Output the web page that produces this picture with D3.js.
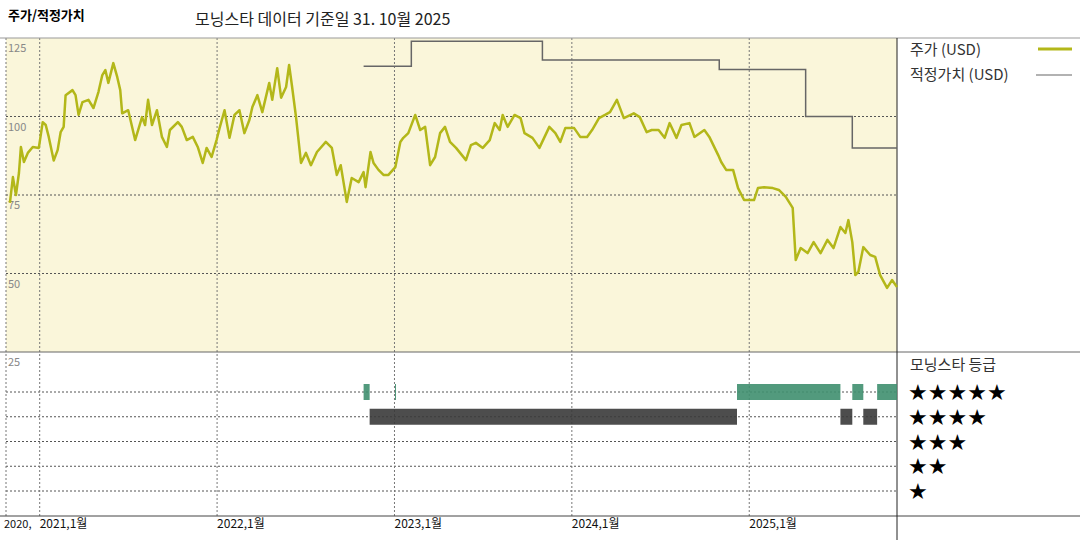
<!DOCTYPE html>
<html><head><meta charset="utf-8">
<script src="https://cdn.jsdelivr.net/npm/d3@7"></script>
<style>body{margin:0;background:#fff}svg{font-family:"Noto Sans CJK KR","DejaVu Sans",sans-serif}</style>
</head><body>
<script>
// price points: [decimal year, USD]
var priceData = [
[2020.832,72.5],[2020.849,80.7],[2020.866,75],[2020.883,82],[2020.894,90.3],[2020.911,85.5],[2020.933,88.4],[2020.961,90.3],[2020.995,90],
[2021.017,98.2],[2021.034,97.3],[2021.051,93.5],[2021.079,86],[2021.101,89.3],[2021.118,95],[2021.135,96.7],[2021.146,106.8],[2021.185,108.4],
[2021.202,106.8],[2021.219,100.5],[2021.241,104.6],[2021.275,105.3],[2021.303,102.7],[2021.331,107.8],[2021.353,113.2],[2021.370,114.8],
[2021.387,110.7],[2021.415,117],[2021.437,112.6],[2021.454,108.4],[2021.465,101],[2021.499,102],[2021.538,92.5],[2021.577,99.8],[2021.594,97.3],
[2021.611,105.3],[2021.633,97.3],[2021.661,102],[2021.689,93.5],[2021.717,90.3],[2021.734,95.7],[2021.779,98.2],[2021.801,96.7],[2021.829,92.5],
[2021.863,93.5],[2021.891,90.3],[2021.919,85.2],[2021.941,90],[2021.969,87.1],[2021.997,92.5],[2022.014,96.3],[2022.042,102],[2022.070,93.2],
[2022.098,100.5],[2022.126,102],[2022.154,94.7],[2022.182,98.9],[2022.199,103],[2022.227,106.8],[2022.255,101.4],[2022.294,110.7],[2022.311,105.3],
[2022.339,115.4],[2022.361,106],[2022.389,109.4],[2022.406,116.4],[2022.423,109.4],[2022.445,99.8],[2022.473,85.2],[2022.501,88.4],[2022.529,84.5],
[2022.563,88.7],[2022.613,91.9],[2022.647,90],[2022.675,81.4],[2022.697,84.5],[2022.731,72.8],[2022.759,80.4],[2022.798,79.1],[2022.826,82.3],
[2022.837,77.5],[2022.865,88.7],[2022.882,85.2],[2022.910,83],[2022.938,81.4],[2022.966,81.4],[2023.005,83.9],[2023.033,91.9],[2023.050,93.2],
[2023.078,94.7],[2023.117,100.5],[2023.145,95.7],[2023.173,96.7],[2023.201,84.5],[2023.229,87.1],[2023.257,94.7],[2023.285,96.7],[2023.313,91.9],
[2023.347,90],[2023.403,86.1],[2023.431,90.9],[2023.459,91.6],[2023.498,90],[2023.537,92.5],[2023.565,97.9],[2023.593,95.7],[2023.610,100.5],
[2023.638,96.7],[2023.677,100.5],[2023.711,99.5],[2023.733,94.7],[2023.778,93.2],[2023.817,90],[2023.873,96.7],[2023.907,94.7],[2023.935,91.9],
[2023.963,96.3],[2024.013,96.3],[2024.047,93.5],[2024.086,93.5],[2024.114,95.7],[2024.153,99.5],[2024.187,100.5],[2024.215,101.4],[2024.254,105.3],
[2024.293,99.5],[2024.349,101],[2024.383,99.8],[2024.422,95],[2024.450,95.7],[2024.489,95.7],[2024.523,93.2],[2024.551,97.9],[2024.590,93.2],
[2024.618,97.3],[2024.663,97.9],[2024.691,93.5],[2024.747,95.7],[2024.775,93.5],[2024.825,87.7],[2024.842,85.5],[2024.870,83],[2024.909,83],
[2024.937,77.2],[2024.971,73.4],[2025.027,73.4],[2025.049,77.2],[2025.083,77.5],[2025.133,77.2],[2025.167,76.6],[2025.206,74.4],[2025.245,70.9],
[2025.262,54.3],[2025.290,58.1],[2025.329,56.5],[2025.363,60],[2025.402,56.5],[2025.441,60.7],[2025.475,58.1],[2025.514,64.8],[2025.542,62.9],
[2025.559,67],[2025.581,60],[2025.598,49.5],[2025.615,50.5],[2025.643,58.4],[2025.682,55.9],[2025.710,55.3],[2025.738,49.5],[2025.777,45.4],
[2025.805,47.9],[2025.833,45.7]
];
// fair value steps: [start year, USD]
var fairData = [[2022.826,116],[2023.095,124],[2023.834,118],[2024.831,115],[2025.318,100],[2025.581,90],[2025.833,90]];
// rating spans: [start, end, stars]
var ratingData = [
[2022.826,2022.860,5],[2023.003,2023.008,5],[2022.860,2024.931,4],[2024.931,2025.514,5],[2025.514,2025.581,4],
[2025.581,2025.643,5],[2025.643,2025.721,4],[2025.721,2025.833,5]
];
var yTicks = [125,100,75,50];
var xTicks = [2021,2022,2023,2024,2025];
var xTickLabels = ["2021,1월","2022,1월","2023,1월","2024,1월","2025,1월"];
var starRows = [5,4,3,2,1];

var W=1080,H=540, L=6, R=897, T=38, M=352, B=516;
var svg = d3.select("body").append("svg").attr("width",W).attr("height",H);
var x = d3.scaleLinear().domain([2020.81,2025.833]).range([L,R]);
var y = d3.scaleLinear().domain([25,125]).range([M,T]);
var r = d3.scaleLinear().domain([5,1]).range([392,491]);

svg.append("rect").attr("x",L).attr("y",T).attr("width",R-L).attr("height",M-T).attr("fill","#faf6da");

// grids
var dash="2,2";
svg.selectAll(".gy").data(yTicks.slice(1)).enter().append("line")
  .attr("x1",L).attr("x2",R).attr("y1",d=>y(d)).attr("y2",d=>y(d)).attr("stroke","#555").attr("stroke-dasharray",dash);
svg.selectAll(".gr").data(starRows).enter().append("line")
  .attr("x1",L).attr("x2",R).attr("y1",d=>r(d)).attr("y2",d=>r(d)).attr("stroke","#555").attr("stroke-dasharray",dash);
svg.selectAll(".gx").data(xTicks).enter().append("line")
  .attr("x1",d=>x(d)).attr("x2",d=>x(d)).attr("y1",T).attr("y2",B).attr("stroke","#777").attr("stroke-dasharray",dash);
svg.append("line").attr("x1",L).attr("x2",L).attr("y1",T).attr("y2",B).attr("stroke","#777").attr("stroke-dasharray",dash);

// frame
svg.append("line").attr("x1",0).attr("x2",W).attr("y1",T).attr("y2",T).attr("stroke","#999");
svg.append("line").attr("x1",0).attr("x2",W).attr("y1",M).attr("y2",M).attr("stroke","#666");
svg.append("line").attr("x1",0).attr("x2",W).attr("y1",B).attr("y2",B).attr("stroke","#444");
svg.append("line").attr("x1",R).attr("x2",R).attr("y1",T).attr("y2",H).attr("stroke","#222");

// y labels
svg.selectAll(".yl").data(yTicks.concat([25])).enter().append("text")
  .attr("x",L+2).attr("y",d=>y(d)+14).attr("font-size",11).attr("fill","#888").text(d=>d);

// x labels
svg.append("text").attr("x",L-2).attr("y",B+12).attr("font-size",11).attr("fill","#111").text("2020,");
svg.selectAll(".xl").data(xTicks).enter().append("text")
  .attr("x",d=>x(d)).attr("y",B+12).attr("font-size",12).attr("fill","#111").text((d,i)=>xTickLabels[i]);

// ratings
svg.selectAll(".rb").data(ratingData).enter().append("rect")
  .attr("x",d=>x(d[0])).attr("width",d=>Math.max(1,x(d[1])-x(d[0])))
  .attr("y",d=>r(d[2])-8).attr("height",16)
  .attr("fill",d=>d[2]==5?"#3f8f6f":"#3a3a3a").attr("opacity",0.9);

// fair value
svg.append("path").datum(fairData)
  .attr("d",d3.line().x(d=>x(d[0])).y(d=>y(d[1])).curve(d3.curveStepAfter))
  .attr("fill","none").attr("stroke","#666").attr("stroke-width",1.5);

// price
svg.append("path").datum(priceData)
  .attr("d",d3.line().x(d=>x(d[0])).y(d=>y(d[1])))
  .attr("fill","none").attr("stroke","#b3b719").attr("stroke-width",2.5).attr("stroke-linejoin","round");

// titles
svg.append("text").attr("x",8).attr("y",20).attr("font-size",13).attr("font-weight","bold").text("주가/적정가치");
svg.append("text").attr("x",195).attr("y",25).attr("font-size",16).attr("fill","#222").text("모닝스타 데이터 기준일 31. 10월 2025");

// legend
svg.append("text").attr("x",910).attr("y",55).attr("font-size",15).attr("fill","#333").text("주가 (USD)");
svg.append("line").attr("x1",1038).attr("x2",1072).attr("y1",49).attr("y2",49).attr("stroke","#b3b719").attr("stroke-width",3);
svg.append("text").attr("x",910).attr("y",80).attr("font-size",15).attr("fill","#333").text("적정가치 (USD)");
svg.append("line").attr("x1",1036).attr("x2",1072).attr("y1",75).attr("y2",75).attr("stroke","#666").attr("stroke-width",1.2);
svg.append("text").attr("x",910).attr("y",370).attr("font-size",15).attr("fill","#333").text("모닝스타 등급");
svg.selectAll(".st").data(starRows).enter().append("text")
  .attr("x",908).attr("y",d=>r(d)+8).attr("font-size",22).attr("fill","#000").attr("font-family","DejaVu Sans")
  .text(d=>"★".repeat(d));
</script>
</body></html>
